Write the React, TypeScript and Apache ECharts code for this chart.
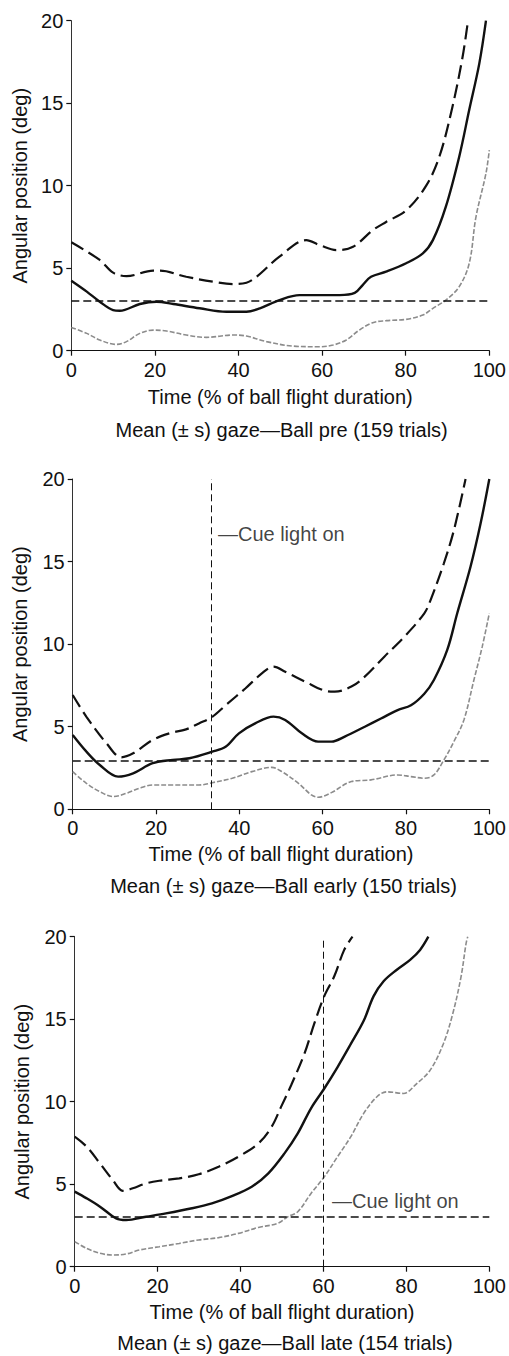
import React, { useEffect, useRef } from "react";
import * as echarts from "echarts";

const FONT = "Liberation Sans, Arial, Helvetica, sans-serif";
const TXT = "#111";

// X ticks / Y ticks
const X_MIN = 0, X_MAX = 100, X_STEP = 20;
const Y_MIN = 0, Y_MAX = 20, Y_STEP = 5;

const X_NAME = "Time (% of ball flight duration)";
const Y_NAME = "Angular position (deg)";
const CAPTIONS = [
  "Mean (\u00b1 s) gaze\u2014Ball pre (159 trials)",
  "Mean (\u00b1 s) gaze\u2014Ball early (150 trials)",
  "Mean (\u00b1 s) gaze\u2014Ball late (154 trials)",
];
const CUE_LABEL = "\u2014Cue light on";

// Panel 1: Ball pre
const PRE_UPPER = [
  [0, 6.57], [6.8, 5.5], [10, 4.73], [13.2, 4.52], [19.6, 4.85], [21.2, 4.85], [27.5, 4.48],
  [33.9, 4.18], [38.7, 4.04], [41.9, 4.12], [44.3, 4.48], [49.8, 5.7], [56.2, 6.7], [59.4, 6.4],
  [63.4, 6.1], [67.4, 6.3], [72.1, 7.3], [75.3, 7.8], [80.1, 8.5], [84.9, 10.0], [88.1, 11.8],
  [91.2, 14.8], [93.6, 17.8], [94.9, 20],
];
const PRE_MEAN = [
  [0, 4.24], [3.7, 3.58], [6.8, 2.97], [10, 2.46], [11.6, 2.42], [16.4, 2.83], [20.4, 2.97],
  [24.4, 2.83], [30.7, 2.57], [37.1, 2.36], [41.9, 2.36], [45.1, 2.57], [49.8, 3.07], [54.6, 3.37],
  [59.4, 3.37], [64.2, 3.37], [67.8, 3.5], [69.7, 3.98], [71.7, 4.48], [75.3, 4.79], [80.1, 5.3],
  [84.1, 5.9], [86.5, 6.7], [89.6, 8.73], [92.8, 11.76], [95.2, 14.6], [97.6, 17.4], [99.2, 20],
];
const PRE_LOWER = [
  [0, 1.41], [3.7, 1.05], [6.8, 0.65], [10.8, 0.38], [13.2, 0.55], [16.4, 1.05], [19.6, 1.25],
  [22.8, 1.19], [27.5, 0.95], [32.3, 0.81], [38.7, 0.95], [41.9, 0.89], [46.7, 0.55], [53, 0.28],
  [59.4, 0.24], [62.6, 0.34], [65.8, 0.65], [68.9, 1.25], [72.1, 1.7], [75.3, 1.82], [80.1, 1.9],
  [84.1, 2.16], [86.5, 2.57], [89.6, 3.07], [92.8, 3.88], [95.2, 5.3], [96.8, 8.1], [99.2, 10.75],
  [100, 12.16],
];
const PRE_REF = 3;

// Panel 2: Ball early
const EARLY_UPPER = [
  [0, 6.92], [3.3, 5.6], [8.1, 4.0], [11.7, 3.15], [14.5, 3.39], [19.2, 4.2], [23.2, 4.6],
  [27.2, 4.84], [30.3, 5.2], [33.5, 5.6], [36.7, 6.3], [41.5, 7.33], [45.4, 8.23], [48.2, 8.64],
  [51, 8.33], [55.8, 7.73], [60.5, 7.18], [62.9, 7.12], [66.9, 7.43], [70.1, 8.03], [74.8, 9.24],
  [79.6, 10.45], [84.4, 11.87], [85.9, 12.67], [89.1, 14.9], [91.5, 16.9], [94.3, 20],
];
const EARLY_MEAN = [
  [0, 4.5], [3.3, 3.49], [6.5, 2.68], [10.9, 1.98], [14.5, 2.18], [19.2, 2.79], [24, 2.99],
  [28, 3.09], [33.5, 3.49], [36.7, 3.79], [39.9, 4.6], [43.8, 5.2], [48.2, 5.61], [51, 5.41],
  [55, 4.6], [58.9, 4.1], [62.1, 4.1], [65.3, 4.4], [70.1, 5.0], [74, 5.5], [78, 6.01], [81.2, 6.3],
  [84.4, 7.0], [86.7, 7.83], [89.9, 9.65], [92.3, 11.87], [95.5, 14.7], [97.9, 17.3], [100, 20],
];
const EARLY_LOWER = [
  [0, 2.28], [3.3, 1.57], [6.5, 1.07], [9.7, 0.77], [12.9, 0.97], [16, 1.27], [19.2, 1.47],
  [24, 1.47], [30.3, 1.47], [33.5, 1.61], [38.3, 1.88], [43, 2.28], [47.8, 2.54], [50.2, 2.28],
  [54.2, 1.57], [57.3, 0.87], [58.9, 0.73], [62.1, 1.01], [66.9, 1.68], [71.6, 1.78], [78, 2.08],
  [81.2, 1.98], [84.4, 1.88], [86.7, 2.08], [89.1, 2.99], [91.5, 4.1], [93.9, 5.41], [96.3, 7.83],
  [98.3, 9.85], [100, 11.87],
];
const EARLY_REF = 2.95;
const EARLY_CUE = [33.3, 16.65];

// Panel 3: Ball late
const LATE_UPPER = [
  [0, 7.88], [2.9, 7.27], [6.1, 6.26], [9.2, 5.25], [11.6, 4.6], [14, 4.75], [17.2, 5.05],
  [20.4, 5.21], [25.2, 5.35], [29.9, 5.6], [34.7, 6.06], [39.5, 6.67], [44.3, 7.47], [47.5, 8.48],
  [49.8, 9.7], [52.2, 11.0], [55.4, 12.9], [57.8, 14.75], [60.2, 16.4], [62.6, 17.6], [65, 19.2],
  [67, 20],
];
const LATE_MEAN = [
  [0, 4.55], [2.9, 4.14], [6.1, 3.64], [10, 2.93], [12.4, 2.83], [17.2, 3.03], [22, 3.23],
  [28.3, 3.54], [33.1, 3.84], [37.9, 4.28], [42.7, 4.85], [46.7, 5.66], [50.6, 6.87], [53.8, 8.08],
  [57, 9.6], [60.2, 10.8], [63.4, 12.1], [66.6, 13.5], [69.7, 14.9], [72.1, 16.4], [74.5, 17.3],
  [77.7, 18.0], [80.9, 18.6], [83.3, 19.2], [85.3, 20],
];
const LATE_LOWER = [
  [0, 1.52], [2.9, 1.11], [6.1, 0.81], [9.2, 0.71], [12.4, 0.77], [15.6, 1.01], [20.4, 1.21],
  [25.2, 1.41], [29.9, 1.62], [34.7, 1.76], [39.5, 2.02], [44.3, 2.38], [49, 2.63], [51.4, 3.03],
  [53.8, 3.33], [57, 4.44], [60.2, 5.45], [63.4, 6.67], [66.6, 7.88], [69.7, 9.29], [72.9, 10.3],
  [75.3, 10.6], [79.3, 10.5], [82.5, 11.1], [85.7, 11.9], [88.9, 13.5], [91.2, 15.35], [93.2, 17.6],
  [94.4, 19.6], [94.8, 20],
];
const LATE_REF = 3;
const LATE_CUE = [60, 3.98];

const GRIDS = [
  { left: 71.3, top: 20.7, width: 418.7, height: 330 },
  { left: 72.7, top: 479, width: 419.6, height: 330.3 },
  { left: 74.7, top: 936.7, width: 418.6, height: 330 },
];

const PANELS = [
  { upper: PRE_UPPER, mean: PRE_MEAN, lower: PRE_LOWER, ref: PRE_REF, cue: null as number[] | null, cueDist: 6 },
  { upper: EARLY_UPPER, mean: EARLY_MEAN, lower: EARLY_LOWER, ref: EARLY_REF, cue: EARLY_CUE, cueDist: 6 },
  { upper: LATE_UPPER, mean: LATE_MEAN, lower: LATE_LOWER, ref: LATE_REF, cue: LATE_CUE, cueDist: 8 },
];

function buildOption() {
  const grid: any[] = [];
  const xAxis: any[] = [];
  const yAxis: any[] = [];
  const series: any[] = [];
  const graphic: any[] = [];
  const yNameGaps = [41, 42.5, 43];
  const xNameGaps = [36, 35, 35];
  const capOffsets = [79, 77, 76];

  PANELS.forEach((p, i) => {
    const g = GRIDS[i];
    grid.push({ left: g.left, top: g.top, width: g.width, height: g.height, containLabel: false });
    xAxis.push({
      type: "value",
      gridIndex: i,
      min: X_MIN,
      max: X_MAX,
      interval: X_STEP,
      name: X_NAME,
      nameLocation: "middle",
      nameGap: xNameGaps[i],
      nameTextStyle: { fontFamily: FONT, fontSize: 20, color: TXT },
      axisLine: { show: true, onZero: false, lineStyle: { color: "#111", width: 1.2 } },
      axisTick: { show: true, length: 5, inside: false, lineStyle: { color: "#111", width: 1.2 } },
      axisLabel: { fontFamily: FONT, fontSize: 20, color: TXT, margin: 9 },
      splitLine: { show: false },
    });
    yAxis.push({
      type: "value",
      gridIndex: i,
      min: Y_MIN,
      max: Y_MAX,
      interval: Y_STEP,
      name: Y_NAME,
      nameLocation: "middle",
      nameGap: yNameGaps[i],
      nameTextStyle: { fontFamily: FONT, fontSize: 20, color: TXT },
      axisLine: { show: true, onZero: false, lineStyle: { color: "#333", width: 1 } },
      axisTick: { show: true, length: 5, inside: false, lineStyle: { color: "#111", width: 1.2 } },
      axisLabel: { fontFamily: FONT, fontSize: 20, color: TXT, margin: 8 },
      splitLine: { show: false },
    });

    const markData: any[] = [
      { yAxis: p.ref, lineStyle: { color: "#111", width: 1.5, type: [8, 4] } },
    ];
    if (p.cue) {
      markData.push({ xAxis: p.cue[0], lineStyle: { color: "#111", width: 1, type: [7, 4] } });
    }

    series.push({
      type: "line",
      xAxisIndex: i,
      yAxisIndex: i,
      data: p.lower,
      smooth: 0.35,
      showSymbol: false,
      symbol: "none",
      lineStyle: { color: "#8c8c8c", width: 1.6, type: [5, 2] },
      silent: true,
      z: 2,
    });
    series.push({
      type: "line",
      xAxisIndex: i,
      yAxisIndex: i,
      data: p.upper,
      smooth: 0.35,
      showSymbol: false,
      symbol: "none",
      lineStyle: { color: "#111", width: 2.2, type: [14, 6] },
      silent: true,
      z: 3,
    });
    series.push({
      type: "line",
      xAxisIndex: i,
      yAxisIndex: i,
      data: p.mean,
      smooth: 0.35,
      showSymbol: false,
      symbol: "none",
      lineStyle: { color: "#111", width: 2.4, type: "solid" },
      silent: true,
      z: 4,
      markLine: {
        silent: true,
        symbol: ["none", "none"],
        label: { show: false },
        data: markData,
        animation: false,
      },
    });
    if (p.cue) {
      series.push({
        type: "scatter",
        xAxisIndex: i,
        yAxisIndex: i,
        data: [p.cue],
        symbolSize: 1,
        itemStyle: { color: "rgba(0,0,0,0)" },
        silent: true,
        label: {
          show: true,
          position: "right",
          distance: p.cueDist,
          formatter: CUE_LABEL,
          fontFamily: FONT,
          fontSize: 20,
          color: TXT,
        },
        z: 5,
      });
    }
    graphic.push({
      type: "text",
      x: g.left + g.width / 2 + 1,
      y: g.top + g.height + capOffsets[i],
      style: {
        text: CAPTIONS[i],
        fontFamily: FONT,
        fontSize: 20,
        fill: TXT,
        textAlign: "center",
        textVerticalAlign: "middle",
      },
      silent: true,
    });
  });

  return {
    animation: false,
    backgroundColor: "#fff",
    grid,
    xAxis,
    yAxis,
    series,
    graphic,
  };
}

export default function App() {
  const ref = useRef<HTMLDivElement>(null);
  useEffect(() => {
    if (!ref.current) return;
    const chart = echarts.init(ref.current, null, { renderer: "svg" });
    chart.setOption(buildOption() as any);
    return () => chart.dispose();
  }, []);
  return (
    <div
      ref={ref}
      style={{ position: "absolute", left: 0, top: 0, width: 509, height: 1356, background: "#fff" }}
    />
  );
}
